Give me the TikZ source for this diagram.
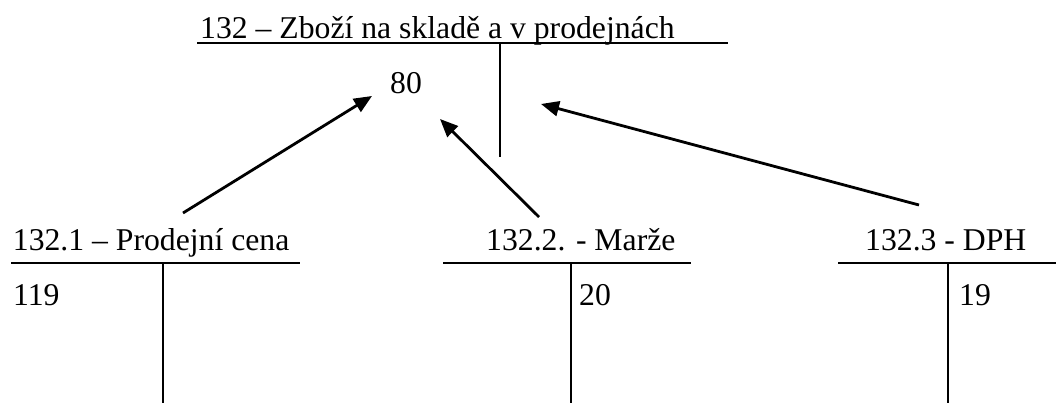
\documentclass[tikz,border=0pt]{standalone}
\usepackage{fontspec}
\setmainfont{Liberation Serif}
\usetikzlibrary{arrows.meta}
\begin{document}
\begin{tikzpicture}[x=1pt,y=-1pt,
  lbl/.style={anchor=base west,inner sep=0pt,font=\fontsize{31.7}{38}\selectfont},
  tline/.style={line width=1.8pt},
  flow/.style={line width=2.8pt,-{Triangle[length=18pt,width=15pt]}}]
\useasboundingbox (0,0) rectangle (1056,403);

% account 132
\node[lbl] (t0) at (200,39) {132 – Zboží na skladě a v prodejnách};
\node[lbl] (v80) at (390,94) {80};
\coordinate (h0l) at (197,43);
\coordinate (h0r) at (728,43);
\coordinate (v0t) at (500,43);
\coordinate (v0b) at (500,157);
\draw[tline] (h0l) -- (h0r);
\draw[tline] (v0t) -- (v0b);

% account 132.1
\node[lbl] (t1) at (12.7,250) {132.1 – Prodejní cena};
\node[lbl] (v119) at (13,305) {119};
\coordinate (h1l) at (11,263);
\coordinate (h1r) at (300,263);
\coordinate (v1t) at (163,263);
\coordinate (v1b) at (163,403);
\draw[tline] (h1l) -- (h1r);
\draw[tline] (v1t) -- (v1b);

% account 132.2
\node[lbl] (t2) at (486,250) {132.2. - Marže};
\node[lbl] (v20) at (579,305) {20};
\coordinate (h2l) at (443,263);
\coordinate (h2r) at (691,263);
\coordinate (v2t) at (571,263);
\coordinate (v2b) at (571,403);
\draw[tline] (h2l) -- (h2r);
\draw[tline] (v2t) -- (v2b);

% account 132.3
\node[lbl] (t3) at (865,250) {132.3 - DPH};
\node[lbl] (v19) at (959,305) {19};
\coordinate (h3l) at (838,263);
\coordinate (h3r) at (1056,263);
\coordinate (v3t) at (948,263);
\coordinate (v3b) at (948,403);
\draw[tline] (h3l) -- (h3r);
\draw[tline] (v3t) -- (v3b);

% transfers into account 132
\coordinate (a1s) at (183,213);
\coordinate (a1e) at (372,96);
\coordinate (a2s) at (539,217);
\coordinate (a2e) at (440,119);
\coordinate (a3s) at (919,205);
\coordinate (a3e) at (541,104);
\draw[flow] (a1s) -- (a1e);
\draw[flow] (a2s) -- (a2e);
\draw[flow] (a3s) -- (a3e);
\end{tikzpicture}
\end{document}
